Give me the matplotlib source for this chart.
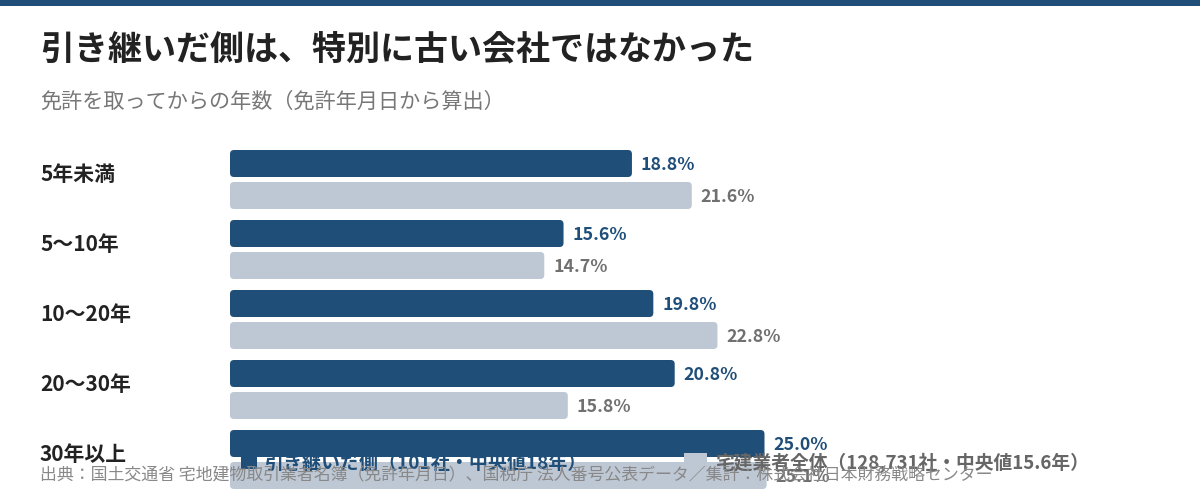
import matplotlib
matplotlib.use("Agg")
import matplotlib.pyplot as plt
from matplotlib.patches import FancyBboxPatch, Rectangle
import matplotlib.transforms as mtransforms

plt.rcParams['font.family'] = ['Noto Sans CJK JP', 'DejaVu Sans']

# ---- data ----
categories = ["5年未満", "5〜10年", "10〜20年", "20〜30年", "30年以上"]
successor = [18.8, 15.6, 19.8, 20.8, 25.0]
all_firms = [21.6, 14.7, 22.8, 15.8, 25.1]
series_names = ["引き継いだ側（101社・中央値18年）", "宅建業者全体（128,731社・中央値15.6年）"]
title = "引き継いだ側は、特別に古い会社ではなかった"
subtitle = "免許を取ってからの年数（免許年月日から算出）"
source = "出典：国土交通省 宅地建物取引業者名簿（免許年月日）、国税庁 法人番号公表データ／集計：株式会社日本財務戦略センター"

DARK = "#1F4E79"
LIGHT = "#BEC8D4"
W, H = 1200, 500

fig = plt.figure(figsize=(12, 5), dpi=100)
fig.patch.set_facecolor("white")

def fx(px):
    return px / W

def fy(py):
    return 1 - py / H

# top band
fig.patches.append(Rectangle((0, fy(6)), 1, 6 / H, transform=fig.transFigure,
                             facecolor=DARK, edgecolor="none", zorder=5))

# axes: x=0 at 230px, 21.38 px per %, y: 70 px per group
left_px = 230
px_per_x = 21.38
px_per_y = 70.0
group0_px = 179.5
ax = fig.add_axes([fx(left_px), 0, 1 - fx(left_px), 1])
ax.set_xlim(0, (W - left_px) / px_per_x)
ax.set_ylim((H - group0_px) / px_per_y, -group0_px / px_per_y)
ax.axis("off")

bar_h = 27 / px_per_y
off = 16 / px_per_y
rnd = 4 / px_per_x
aspect = px_per_x / px_per_y

for i, (a, b) in enumerate(zip(successor, all_firms)):
    for val, yc, col, tcol in ((a, i - off, DARK, DARK), (b, i + off, LIGHT, "#707070")):
        p = FancyBboxPatch((0, yc - bar_h / 2), val, bar_h,
                           boxstyle=f"round,pad=0,rounding_size={rnd}",
                           mutation_aspect=aspect, facecolor=col, edgecolor="none", zorder=2)
        ax.add_patch(p)
        ax.text(val + 9 / px_per_x, yc + 1 / px_per_y, f"{val:.1f}%", color=tcol, fontsize=12.8,
                fontweight="bold", va="center", ha="left", zorder=3)

trans = mtransforms.blended_transform_factory(fig.transFigure, ax.transData)
for i, c in enumerate(categories):
    ax.text(fx(40), i - 0.065, c, transform=trans, fontsize=15, fontweight="bold",
            color="#222222", va="center", ha="left")

# title / subtitle
fig.text(fx(40), fy(50), title, fontsize=24.5, fontweight="bold", color="#222222",
         va="center", ha="left")
fig.text(fx(40), fy(102), subtitle, fontsize=15.2, color="#777777", va="center", ha="left")

# legend (overlapping the last group, as in the reference)
fig.patches.append(Rectangle((fx(241), fy(469)), 16 / W, 16 / H, transform=fig.transFigure,
                             facecolor=DARK, edgecolor="none", zorder=6))
fig.text(fx(265), fy(463), series_names[0], fontsize=13.7, fontweight="bold", color=DARK,
         va="center", ha="left", zorder=7)
fig.patches.append(Rectangle((fx(684), fy(470)), 23 / W, 17 / H, transform=fig.transFigure,
                             facecolor=LIGHT, edgecolor="none", zorder=6))
fig.text(fx(715), fy(463), series_names[1], fontsize=13.5, fontweight="bold", color="#666666",
         va="center", ha="left", zorder=7)

# source
fig.text(fx(40), fy(474), source, fontsize=12.2, color="#888888", va="center", ha="left", zorder=8)

fig.savefig("out.png", dpi=100, facecolor="white")
